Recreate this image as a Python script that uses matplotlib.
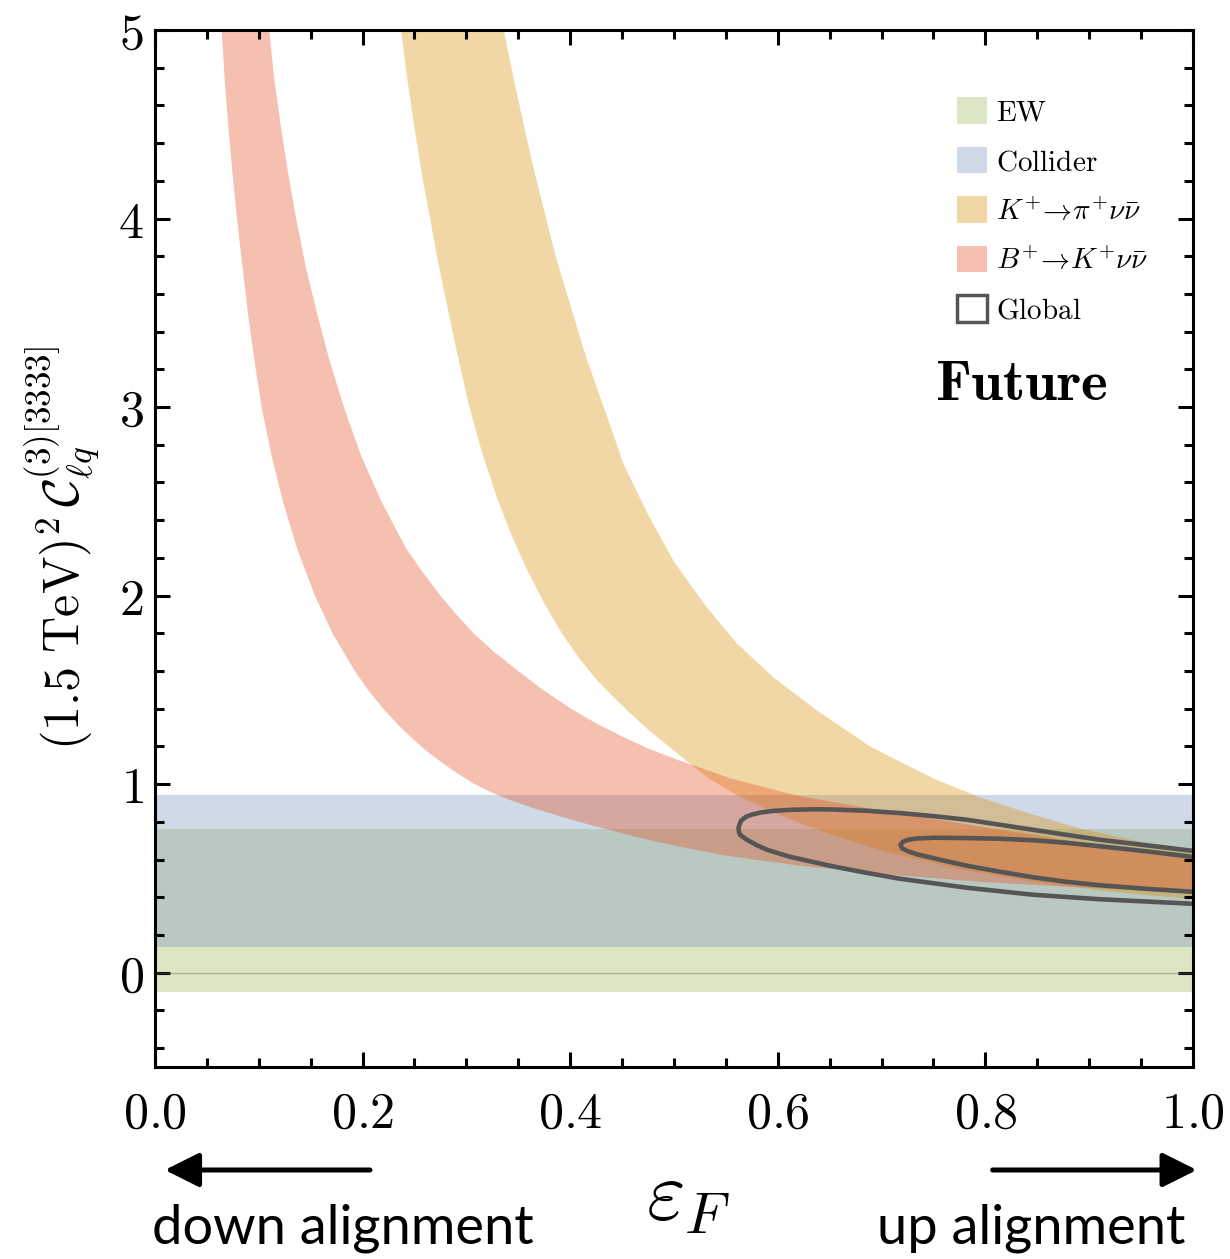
import numpy as np
import matplotlib
matplotlib.use("Agg")
import matplotlib.pyplot as plt
from matplotlib.patches import Patch
from matplotlib.ticker import MultipleLocator, FuncFormatter

plt.rcParams['mathtext.fontset'] = 'cm'

################################################## datos
# bandas horizontales: [y_min, y_max]
ew_band = [-0.10, 0.763]
collider_band = [0.138, 0.944]

# B+ -> K+ nu nubar, borde inferior y superior
b_low_x = [0.0643, 0.067, 0.0705, 0.0745, 0.079, 0.0842, 0.0895, 0.0957, 0.1027, 0.112, 0.1232, 0.1369,
           0.154, 0.171, 0.1925, 0.2053, 0.220, 0.2333, 0.2464, 0.263, 0.280, 0.2933, 0.308, 0.323,
           0.340, 0.3634, 0.390, 0.4185, 0.450, 0.475, 0.500, 0.551, 0.625, 0.708, 0.800, 0.900, 1.000]
b_low_y = [5.00, 4.75, 4.50, 4.25, 4.00, 3.75, 3.50, 3.25, 3.00, 2.75, 2.50, 2.25,
           2.00, 1.80, 1.60, 1.50, 1.40, 1.32, 1.25, 1.17, 1.10, 1.05, 1.00, 0.96,
           0.92, 0.875, 0.83, 0.785, 0.74, 0.705, 0.675, 0.62, 0.565, 0.52, 0.48, 0.45, 0.42]
b_up_x = [0.110, 0.1147, 0.121, 0.128, 0.136, 0.145, 0.156, 0.168, 0.182, 0.198, 0.218, 0.242,
          0.2585, 0.275, 0.2903, 0.307, 0.327, 0.350, 0.3737, 0.401, 0.426, 0.451, 0.4748, 0.503,
          0.555, 0.618, 0.700, 0.785, 0.853, 0.920, 1.000]
b_up_y = [5.00, 4.75, 4.50, 4.25, 4.00, 3.75, 3.50, 3.25, 3.00, 2.75, 2.50, 2.25,
          2.12, 2.00, 1.90, 1.80, 1.70, 1.60, 1.50, 1.40, 1.32, 1.25, 1.19, 1.13,
          1.03, 0.94, 0.86, 0.785, 0.725, 0.665, 0.61]

# K+ -> pi+ nu nubar
k_low_x = [0.237, 0.243, 0.250, 0.257, 0.265, 0.272, 0.280, 0.290, 0.302, 0.315, 0.330, 0.345,
           0.360, 0.376, 0.392, 0.409, 0.426, 0.442, 0.458, 0.476, 0.495, 0.515, 0.535, 0.563,
           0.593, 0.630, 0.670, 0.708, 0.780, 0.850, 0.920, 1.000]
k_low_y = [5.00, 4.74, 4.48, 4.24, 4.00, 3.79, 3.575, 3.315, 3.02, 2.76, 2.51, 2.30,
           2.12, 1.95, 1.80, 1.665, 1.55, 1.46, 1.375, 1.285, 1.20, 1.11, 1.025, 0.935,
           0.855, 0.775, 0.70, 0.636, 0.545, 0.48, 0.43, 0.39]
k_up_x = [0.336, 0.346, 0.356, 0.365, 0.375, 0.386, 0.398, 0.415, 0.433, 0.452, 0.475, 0.500,
          0.530, 0.560, 0.595, 0.638, 0.689, 0.750, 0.795, 0.845, 0.891, 0.945, 1.000]
k_up_y = [5.00, 4.73, 4.48, 4.26, 4.04, 3.80, 3.58, 3.27, 2.99, 2.69, 2.43, 2.18,
          1.95, 1.75, 1.57, 1.39, 1.20, 1.03, 0.93, 0.84, 0.765, 0.70, 0.65]

# contornos del ajuste global (abiertos, cortados en x=1)
outer_x = [0.9990, 0.9547, 0.9104, 0.8776, 0.8459, 0.8141, 0.7823, 0.7514, 0.7177, 0.6850, 0.6551,
           0.6358, 0.6146, 0.5973, 0.5848, 0.5761, 0.5694, 0.5645, 0.5621, 0.5626, 0.5636, 0.5703,
           0.5800, 0.5896, 0.6117, 0.6503, 0.6850, 0.7177, 0.7823, 0.8459, 0.9104, 0.9990]
outer_y = [0.6469, 0.6760, 0.7052, 0.7317, 0.7582, 0.7847, 0.8112, 0.8298, 0.8468, 0.8590, 0.8653,
           0.8669, 0.8643, 0.8590, 0.8510, 0.8404, 0.8271, 0.8059, 0.7688, 0.7476, 0.7317, 0.7052,
           0.6760, 0.6522, 0.6151, 0.5673, 0.5302, 0.4984, 0.4507, 0.4136, 0.3897, 0.3659]
inner_x = [0.9990, 0.9547, 0.9104, 0.8776, 0.8459, 0.8141, 0.7823, 0.7514, 0.7341, 0.7254, 0.7206,
           0.7182, 0.7197, 0.7254, 0.7341, 0.7563, 0.7823, 0.8141, 0.8459, 0.8776, 0.9104, 0.9547, 0.9990]
inner_y = [0.6151, 0.6442, 0.6707, 0.6893, 0.7025, 0.7105, 0.7142, 0.7158, 0.7121, 0.7052, 0.6946,
           0.6787, 0.6601, 0.6442, 0.6283, 0.5992, 0.5673, 0.5355, 0.5064, 0.4825, 0.4639, 0.4454, 0.4295]

labels = ['EW', 'Collider', r'K^{+}\!\rightarrow\!\pi^{+}\nu\bar{\nu}', r'B^{+}\!\rightarrow\!K^{+}\nu\bar{\nu}', 'Global']

# colores
c_ew = '#9eb856'
c_col = '#7692bd'
c_k = '#da8d00'
c_b = '#e54b1d'
alfa = 0.35
c_line = '#555555'

################################################## figura
fig = plt.figure(figsize=(12.3, 12.59), dpi=100)
ax = fig.add_axes([0.1260, 0.1525, 0.8439, 0.8237])

ax.axhspan(ew_band[0], ew_band[1], color=c_ew, alpha=alfa, lw=0)
ax.axhspan(collider_band[0], collider_band[1], color=c_col, alpha=alfa, lw=0)
ax.axhline(0, color='0.45', lw=1.0, alpha=0.45)

ax.fill(k_low_x + k_up_x[::-1], k_low_y + k_up_y[::-1], color=c_k, alpha=alfa, lw=0)
ax.fill(b_low_x + b_up_x[::-1], b_low_y + b_up_y[::-1], color=c_b, alpha=alfa, lw=0)

ax.plot(outer_x, outer_y, color=c_line, lw=3.3, solid_joinstyle='round')
ax.plot(inner_x, inner_y, color=c_line, lw=3.3, solid_joinstyle='round')

ax.set_xlim(0, 1)
ax.set_ylim(-0.5, 5)

# ejes y ticks
for s in ax.spines.values():
    s.set_linewidth(2.2)
ax.xaxis.set_major_locator(MultipleLocator(0.2))
ax.xaxis.set_minor_locator(MultipleLocator(0.05))
ax.yaxis.set_major_locator(MultipleLocator(1))
ax.yaxis.set_minor_locator(MultipleLocator(0.2))
ax.xaxis.set_major_formatter(FuncFormatter(lambda v, p: r'$%.1f$' % v))
ax.yaxis.set_major_formatter(FuncFormatter(lambda v, p: r'$%d$' % round(v)))
ax.tick_params(which='both', direction='in', top=True, right=True, width=2.2, labelsize=36)
ax.tick_params(which='major', length=11)
ax.tick_params(which='minor', length=6.5)
ax.tick_params(axis='x', pad=16)
ax.tick_params(axis='y', pad=8)

# leyenda
handles = [Patch(facecolor=c_ew, alpha=alfa, lw=0),
           Patch(facecolor=c_col, alpha=alfa, lw=0),
           Patch(facecolor=c_k, alpha=alfa, lw=0),
           Patch(facecolor=c_b, alpha=alfa, lw=0),
           Patch(facecolor='white', edgecolor=c_line, lw=2.5)]
leg_labels = [r'$\mathrm{%s}$' % labels[0], r'$\mathrm{%s}$' % labels[1],
              r'$%s$' % labels[2], r'$%s$' % labels[3], r'$\mathrm{%s}$' % labels[4]]
ax.legend(handles, leg_labels, loc='upper left', bbox_to_anchor=(0.7726, 0.935),
          frameon=False, fontsize=21, handlelength=1.03, handleheight=1.03,
          handletextpad=0.3, labelspacing=0.69, borderpad=0, borderaxespad=0)

ax.text(0.7514, 0.643, r'$\mathbf{Future}$', transform=ax.transAxes, fontsize=41,
        ha='left', va='baseline')

# etiquetas de los ejes
fig.text(0.0504, 0.565, r'$(1.5\ \mathrm{TeV})^2\,\mathcal{C}_{\ell q}^{(3)[3333]}$',
         rotation=90, fontsize=36, ha='center', va='center')
fig.text(0.5596, 0.031, r'$\varepsilon_F$', fontsize=60, ha='center', va='baseline')

# flechas de alineamiento
flecha = dict(arrowstyle='-|>,head_length=1.0,head_width=0.5', lw=3.6, color='black',
              mutation_scale=21, shrinkA=0, shrinkB=0)
ax.annotate('', xy=(0.134, 0.0707), xytext=(0.3008, 0.0707), xycoords='figure fraction',
            textcoords='figure fraction', arrowprops=flecha)
ax.annotate('', xy=(0.973, 0.0707), xytext=(0.807, 0.0707), xycoords='figure fraction',
            textcoords='figure fraction', arrowprops=flecha)
fig.text(0.1236, 0.0127, 'down alignment', family='Lato', fontsize=39, ha='left', va='baseline')
fig.text(0.9634, 0.0127, 'up alignment', family='Lato', fontsize=39, ha='right', va='baseline')

fig.savefig('out.png', dpi=100)
